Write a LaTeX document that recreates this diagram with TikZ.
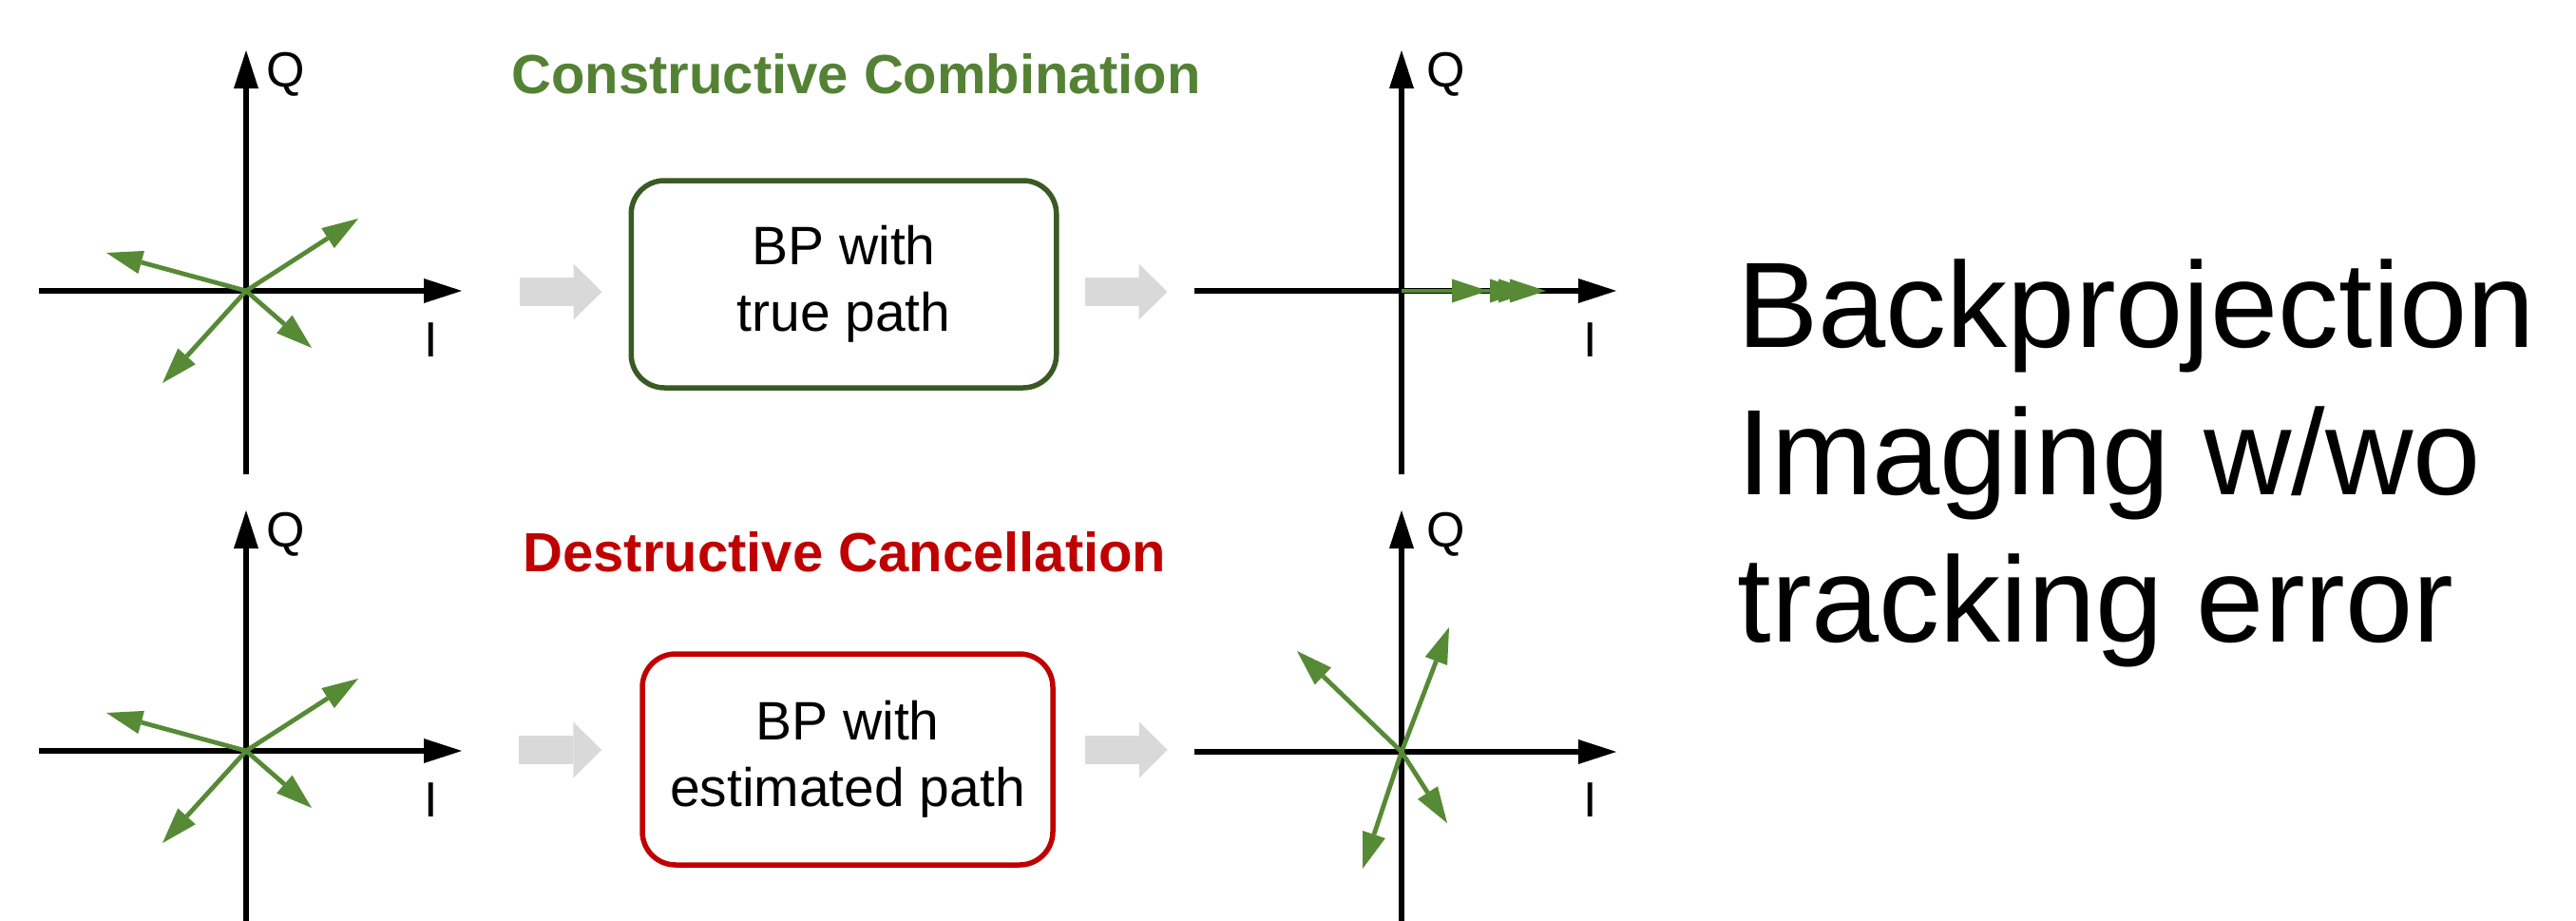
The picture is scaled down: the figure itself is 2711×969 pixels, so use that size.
\documentclass[tikz,border=0pt]{standalone}
\usepackage{fontspec}
\setmainfont{Liberation Sans}
\usetikzlibrary{arrows.meta}
\definecolor{vgreen}{HTML}{568A35}
\definecolor{tgreen}{HTML}{548235}
\definecolor{bgreen}{HTML}{3A5A24}
\definecolor{bred}{HTML}{C00000}
\definecolor{lgray}{HTML}{D9D9D9}
\begin{document}
\begin{tikzpicture}[x=0.5pt,y=-0.5pt,
  axisline/.style={line width=2.75pt,-{Triangle[length=20pt,width=13pt,line width=0pt]}},
  vec/.style={vgreen,line width=2.4pt,-{Triangle[length=19pt,width=12.5pt,line width=0pt]}},
  lbl/.style={font=\fontsize{26pt}{30pt}\selectfont,inner sep=0pt,anchor=base},
  ttl/.style={font=\fontsize{29pt}{34pt}\selectfont\bfseries,inner sep=0pt,anchor=base},
  bpbox/.style={rounded corners=17.5pt,line width=2.75pt,align=center,inner sep=0pt,
    font=\fontsize{28.5pt}{35pt}\selectfont},
  grayarrow/.style={lgray,line width=15pt,-{Triangle[length=15pt,width=29.5pt,line width=0pt]}},
  big/.style={font=\fontsize{64pt}{77pt}\selectfont,inner sep=0pt,anchor=base west}]
\useasboundingbox (0,0) rectangle (2711,969);
\fill[white] (0,0) rectangle (2711,969);

% origins
\coordinate (o1) at (259,306);
\coordinate (o2) at (1475,306);
\coordinate (o3) at (259,790);
\coordinate (o4) at (1475,791);

% axes: top-left
\draw[axisline] (41,306) -- (486,306);
\draw[axisline] (259,499) -- (259,53);
% axes: top-right
\draw[axisline] (1257,306) -- (1701,306);
\draw[axisline] (1475,499) -- (1475,53);
% axes: bottom-left
\draw[axisline] (41,790) -- (486,790);
\draw[axisline] (259,969) -- (259,537);
% axes: bottom-right
\draw[axisline] (1257,791) -- (1701,791);
\draw[axisline] (1475,969) -- (1475,537);

% axis labels
\node[lbl] (q1) at (301,91) {Q};
\node[lbl] (i1) at (454,375) {I};
\node[lbl] (q2) at (1522,91) {Q};
\node[lbl] (i2) at (1674,375) {I};
\node[lbl] (q3) at (301,575) {Q};
\node[lbl] (i3) at (454,859) {I};
\node[lbl] (q4) at (1522,575) {Q};
\node[lbl] (i4) at (1674,859) {I};

% vectors top-left
\draw[vec] (o1) -- ++(118,-76);
\draw[vec] (o1) -- ++(-147,-40);
\draw[vec] (o1) -- ++(-88,97);
\draw[vec] (o1) -- ++(69,60);
% vectors bottom-left
\draw[vec] (o3) -- ++(118,-76);
\draw[vec] (o3) -- ++(-147,-40);
\draw[vec] (o3) -- ++(-88,97);
\draw[vec] (o3) -- ++(69,60);
% vectors top-right (aligned)
\draw[vec] (o2) -- ++(152,0);
\draw[vec] (o2) -- ++(140,0);
\draw[vec] (o2) -- ++(131,0);
\draw[vec] (o2) -- ++(91,0);
% vectors bottom-right (scattered)
\draw[vec] (o4) -- ++(-110,-106);
\draw[vec] (o4) -- ++(50,-131);
\draw[vec] (o4) -- ++(-41,123);
\draw[vec] (o4) -- ++(48,75);

% titles
\node[ttl,text=tgreen] (t1) at (901,98) {Constructive Combination};
\node[ttl,text=bred] (t2) at (889,601) {Destructive Cancellation};

% boxes
\node[bpbox,draw=bgreen,minimum width=223.75pt,minimum height=109pt] (box1) at (888,299) {BP with\\true path};
\node[bpbox,draw=bred,minimum width=216pt,minimum height=111pt] (box2) at (892,799) {BP with\\estimated path};

% gray block arrows
\draw[grayarrow] ([xshift=-57.5pt,yshift=-4pt]box1.west) -- ([xshift=-14pt,yshift=-4pt]box1.west);
\draw[grayarrow] ([xshift=13.5pt,yshift=-4pt]box1.east) -- ([xshift=57pt,yshift=-4pt]box1.east);
\draw[grayarrow] ([xshift=-63.5pt,yshift=5pt]box2.west) -- ([xshift=-20pt,yshift=5pt]box2.west);
\draw[grayarrow] ([xshift=15.5pt,yshift=5pt]box2.east) -- ([xshift=59pt,yshift=5pt]box2.east);

% big text
\node[big] (b1) at (1828,365) {Backprojection};
\node[big] (b2) at (1828,520) {Imaging w/wo};
\node[big] (b3) at (1828,675) {tracking error};
\end{tikzpicture}
\end{document}
